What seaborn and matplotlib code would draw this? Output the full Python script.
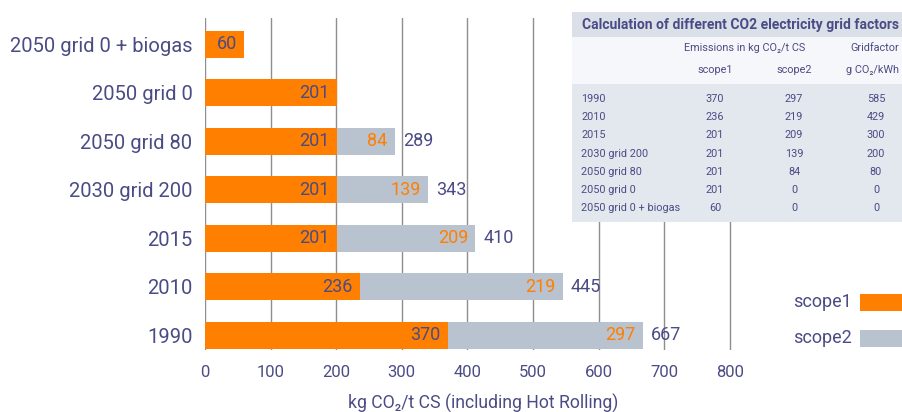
import pandas as pd
import seaborn as sns
import matplotlib.pyplot as plt
from matplotlib.patches import Rectangle

# Values (top row first)
categories = ["2050 grid 0 + biogas", "2050 grid 0", "2050 grid 80", "2030 grid 200",
              "2015", "2010", "1990"]
scope1 = [60, 201, 201, 201, 201, 236, 370]
scope2 = [0, 0, 84, 139, 209, 219, 297]
# where the grey bars end in the picture, and the totals printed beside them
bar_end = [60, 201, 289, 340, 412, 545, 667]
total_label = ["", "", "289", "343", "410", "445", "667"]

# side table
table_rows = ["1990", "2010", "2015", "2030 grid 200", "2050 grid 80", "2050 grid 0",
              "2050 grid 0 + biogas"]
table_scope1 = [370, 236, 201, 201, 201, 201, 60]
table_scope2 = [297, 219, 209, 139, 84, 0, 0]
table_grid = [585, 429, 300, 200, 80, 0, 0]

orange = "#FF7F00"
grey = "#B9C2CF"
ink = "#4B4B85"

sns.set_theme(style="white")
plt.rcParams["font.family"] = ["Roboto", "DejaVu Sans"]

df = pd.DataFrame({"category": categories, "scope1": scope1, "scope2": scope2,
                   "end": bar_end, "total": total_label})

W, H = 903, 412
# axis: 0 at x=205px, 65.6px per 100; extend slightly past 800 so its gridline shows
x_hi = 815
ax_w = x_hi * 0.656 / W
fig = plt.figure(figsize=(9.03, 4.12), dpi=100)
ax = fig.add_axes([205 / W, 0.150, ax_w, 0.806])

sns.barplot(data=df, x="end", y="category", color=grey, width=0.56, orient="h",
            saturation=1, linewidth=0, ax=ax, zorder=2)
sns.barplot(data=df, x="scope1", y="category", color=orange, width=0.56, orient="h",
            saturation=1, linewidth=0, ax=ax, zorder=3)

for i, row in df.iterrows():
    ax.annotate(str(row["scope1"]), (row["scope1"], i), xytext=(-5, 0),
                textcoords="offset points", ha="right", va="center",
                color=ink, fontsize=13, zorder=4)
    if row["scope2"] > 0:
        ax.annotate(str(row["scope2"]), (row["end"], i), xytext=(-5, 0),
                    textcoords="offset points", ha="right", va="center",
                    color=orange, fontsize=13, zorder=4)
    if row["total"]:
        ax.annotate(row["total"], (row["end"], i), xytext=(6, 0),
                    textcoords="offset points", ha="left", va="center",
                    color=ink, fontsize=13, zorder=4)

ax.set_xlim(0, x_hi)
ax.set_ylim(6.31, -0.54)
ax.set_xticks(range(0, 801, 100))
ax.grid(axis="x", color="#8E8E8E", linewidth=1.0)
ax.set_axisbelow(True)
for s in ax.spines.values():
    s.set_visible(False)
ax.tick_params(axis="y", length=0, pad=9, labelsize=14.5, labelcolor=ink)
ax.tick_params(axis="x", length=0, pad=11, labelsize=12, labelcolor=ink)
ax.set_ylabel("")
ax.set_xlabel("kg CO₂/t CS (including Hot Rolling)", fontsize=12.7, color=ink)
ax.xaxis.set_label_coords((483 - 205) / (ax_w * W), -0.13)


def fx(px):
    return px / W


def fy(py):
    return 1 - py / H


def panel(top, bottom, col):
    fig.patches.append(Rectangle((fx(572), fy(bottom)), fx(340), (bottom - top) / H,
                                 transform=fig.transFigure, facecolor=col,
                                 edgecolor="none", zorder=5))


# table panel drawn on top of the grid
panel(37, 84, "#F6F7FA")
panel(84, 222, "#E3E7EE")
panel(12, 37, "#DADFE8")

small = 7.8
fig.text(fx(582), fy(25), "Calculation of different CO2 electricity grid factors",
         fontsize=10, fontweight="bold", color=ink, va="center", zorder=6)
fig.text(fx(745), fy(48), "Emissions in kg CO₂/t CS", fontsize=small, color=ink,
         ha="center", va="center", zorder=6)
fig.text(fx(850), fy(48), "Gridfactor", fontsize=small, color=ink, va="center", zorder=6)
fig.text(fx(715), fy(70), "scope1", fontsize=small, color=ink, ha="center", va="center", zorder=6)
fig.text(fx(794), fy(70), "scope2", fontsize=small, color=ink, ha="center", va="center", zorder=6)
fig.text(fx(846), fy(70), "g CO₂/kWh", fontsize=small, color=ink, va="center", zorder=6)

for k, name in enumerate(table_rows):
    y = fy(99 + k * 18.2)
    fig.text(fx(581), y, name, fontsize=small, color=ink, va="center", zorder=6)
    fig.text(fx(715), y, str(table_scope1[k]), fontsize=small, color=ink, ha="center", va="center", zorder=6)
    fig.text(fx(794), y, str(table_scope2[k]), fontsize=small, color=ink, ha="center", va="center", zorder=6)
    fig.text(fx(876), y, str(table_grid[k]), fontsize=small, color=ink, ha="center", va="center", zorder=6)

# legend at the right edge
for name, col, py in [("scope1", orange, 302), ("scope2", grey, 338)]:
    fig.text(fx(852), fy(py), name, fontsize=13, color=ink, ha="right", va="center")
    fig.patches.append(Rectangle((fx(860), fy(py + 8.5)), fx(60), 17 / H,
                                 transform=fig.transFigure, facecolor=col,
                                 edgecolor="none"))

fig.savefig("out.png", dpi=100)
